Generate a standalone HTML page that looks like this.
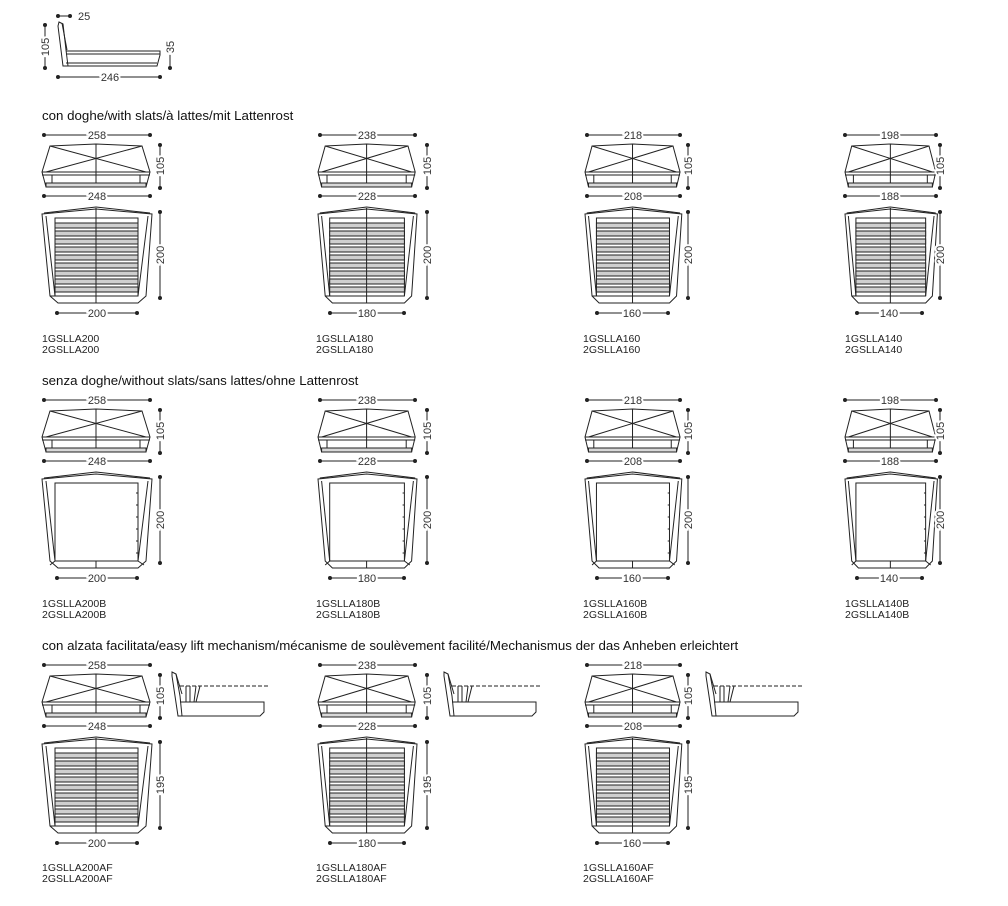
<!DOCTYPE html>
<html><head><meta charset="utf-8"><style>
html,body{margin:0;padding:0;background:#fff;}
svg{display:block;font-family:"Liberation Sans",sans-serif;}
svg *{vector-effect:non-scaling-stroke;}
.o{fill:none;stroke:#222;stroke-width:1}
.t{font-size:11px;fill:#333;stroke:#fff;stroke-width:4px;paint-order:stroke;text-anchor:middle;vector-effect:none}
.l{font-size:10.5px;fill:#222}
.h{font-size:13.3px;fill:#111}
.d line{stroke:#222;stroke-width:1;marker-start:url(#dot);marker-end:url(#dot)}
</style></head><body>
<svg width="1008" height="906" viewBox="0 0 1008 906">
<defs>
<marker id="dot" viewBox="0 0 4 4" refX="2" refY="2" markerWidth="4" markerHeight="4" markerUnits="userSpaceOnUse"><circle cx="2" cy="2" r="2" fill="#222"/></marker>
<g id="front" class="o">
<path d="M8,1 L54,-1 L100,1 L108,27 L104,42 L4,42 L0,27 Z"/>
<line x1="0" y1="27" x2="108" y2="27"/><line x1="0" y1="30" x2="108" y2="30"/>
<line x1="8" y1="1" x2="104" y2="27"/><line x1="100" y1="1" x2="4" y2="27"/>
<line x1="54" y1="-1" x2="54" y2="42"/>
<line x1="10" y1="30" x2="10" y2="42"/><line x1="98" y1="30" x2="98" y2="42"/>
<rect x="4" y="38" width="100" height="4" fill="#d8d8d8"/>
</g>
<g id="planS" class="o">
<path d="M0,6 L54,1 L110,6 L104,88 L96,95 L16,95 L8,88 Z"/>
<path d="M2,5 L54,-1 L108,5"/>
<line x1="4" y1="8" x2="13" y2="88"/><line x1="106" y1="8" x2="96" y2="88"/>
<rect x="13" y="10" width="83" height="78"/>
<g fill="#cfcfcf">
<rect x="13" y="15" width="83" height="5"/><rect x="13" y="23" width="83" height="5"/>
<rect x="13" y="31" width="83" height="5"/><rect x="13" y="39" width="83" height="5"/>
<rect x="13" y="47" width="83" height="5"/><rect x="13" y="55" width="83" height="5"/>
<rect x="13" y="63" width="83" height="5"/><rect x="13" y="71" width="83" height="5"/>
<rect x="13" y="79" width="83" height="5"/>
</g>
<line x1="54" y1="0" x2="54" y2="95"/>
<line x1="13" y1="88" x2="8" y2="88"/>
</g>
<g id="planE" class="o">
<path d="M0,6 L54,1 L110,6 L104,88 L96,95 L16,95 L8,88 Z"/>
<path d="M2,5 L54,-1 L108,5"/>
<line x1="4" y1="8" x2="13" y2="88"/><line x1="106" y1="8" x2="96" y2="88"/>
<rect x="13" y="10" width="83" height="78"/>
<line x1="54" y1="88" x2="54" y2="95"/>
<line x1="13" y1="88" x2="8" y2="92"/><line x1="96" y1="88" x2="102" y2="92"/>
<line x1="94" y1="20" x2="96" y2="20"/><line x1="94" y1="32" x2="96" y2="32"/><line x1="94" y1="44" x2="96" y2="44"/><line x1="94" y1="56" x2="96" y2="56"/><line x1="94" y1="68" x2="96" y2="68"/><line x1="94" y1="80" x2="96" y2="80"/>
</g>
<g id="lift" class="o">
<path d="M0,0 L4,2 L8,24 L10,44 L6,44 L0,4 Z"/>
<path d="M4,2 L10,22"/>
<path d="M8,30 L92,30 L92,40 L88,44 L10,44"/>
<line x1="8" y1="14" x2="98" y2="14" stroke-dasharray="4,2"/>
<line x1="14" y1="14" x2="14" y2="30"/><line x1="18" y1="14" x2="18" y2="30"/><line x1="24" y1="14" x2="22" y2="30"/><line x1="28" y1="14" x2="24" y2="30"/>
</g>
</defs>

<g class="o">
<path d="M59,22 L63,24 L66,50 L68,66 L63,66 L58,26 Z"/><path d="M62,23 L67,50"/>
<path d="M66,51 L160,51 L160,55 L157,66 L66,66"/><line x1="66" y1="54" x2="160" y2="54"/><line x1="66" y1="63" x2="157" y2="63"/>
</g>
<g class="d"><line x1="58" y1="16" x2="70" y2="16"/><line x1="45" y1="25" x2="45" y2="68"/><line x1="170" y1="42" x2="170" y2="68"/><line x1="58" y1="77" x2="160" y2="77"/></g>
<text class="t" x="78" y="20" style="text-anchor:start">25</text>
<text class="t" transform="translate(49,47) rotate(-90)">105</text>
<text class="t" transform="translate(174,47) rotate(-90)">35</text>
<text class="t" x="110" y="81">246</text>

<text class="h" x="42" y="120">con doghe/with slats/à lattes/mit Lattenrost</text>
<text class="h" x="42" y="385">senza doghe/without slats/sans lattes/ohne Lattenrost</text>
<text class="h" x="42" y="650">con alzata facilitata/easy lift mechanism/mécanisme de soulèvement facilité/Mechanismus der das Anheben erleichtert</text>

<use href="#front" transform="translate(42,145)"/>
<use href="#front" transform="translate(318,145) scale(0.9,1)"/>
<use href="#front" transform="translate(585,145) scale(0.88,1)"/>
<use href="#front" transform="translate(845,145) scale(0.84,1)"/>
<use href="#planS" transform="translate(42,208)"/>
<use href="#planS" transform="translate(318,208) scale(0.9,1)"/>
<use href="#planS" transform="translate(585,208) scale(0.88,1)"/>
<use href="#planS" transform="translate(845,208) scale(0.84,1)"/>

<use href="#front" transform="translate(42,410)"/>
<use href="#front" transform="translate(318,410) scale(0.9,1)"/>
<use href="#front" transform="translate(585,410) scale(0.88,1)"/>
<use href="#front" transform="translate(845,410) scale(0.84,1)"/>
<use href="#planE" transform="translate(42,473)"/>
<use href="#planE" transform="translate(318,473) scale(0.9,1)"/>
<use href="#planE" transform="translate(585,473) scale(0.88,1)"/>
<use href="#planE" transform="translate(845,473) scale(0.84,1)"/>

<use href="#front" transform="translate(42,675)"/>
<use href="#front" transform="translate(318,675) scale(0.9,1)"/>
<use href="#front" transform="translate(585,675) scale(0.88,1)"/>
<use href="#planS" transform="translate(42,738)"/>
<use href="#planS" transform="translate(318,738) scale(0.9,1)"/>
<use href="#planS" transform="translate(585,738) scale(0.88,1)"/>
<use href="#lift" transform="translate(172,672)"/>
<use href="#lift" transform="translate(444,672)"/>
<use href="#lift" transform="translate(706,672)"/>

<g class="d">
<line x1="44" y1="135" x2="150" y2="135"/><line x1="44" y1="196" x2="150" y2="196"/><line x1="57" y1="313" x2="137" y2="313"/>
<line x1="160" y1="145" x2="160" y2="188"/><line x1="160" y1="212" x2="160" y2="298"/>
<line x1="320" y1="135" x2="415" y2="135"/><line x1="320" y1="196" x2="415" y2="196"/><line x1="330" y1="313" x2="404" y2="313"/>
<line x1="427" y1="145" x2="427" y2="188"/><line x1="427" y1="212" x2="427" y2="298"/>
<line x1="587" y1="135" x2="680" y2="135"/><line x1="587" y1="196" x2="680" y2="196"/><line x1="597" y1="313" x2="668" y2="313"/>
<line x1="688" y1="145" x2="688" y2="188"/><line x1="688" y1="212" x2="688" y2="298"/>
<line x1="845" y1="135" x2="936" y2="135"/><line x1="845" y1="196" x2="936" y2="196"/><line x1="857" y1="313" x2="922" y2="313"/>
<line x1="940" y1="145" x2="940" y2="188"/><line x1="940" y1="212" x2="940" y2="298"/>
<line x1="44" y1="400" x2="150" y2="400"/><line x1="44" y1="461" x2="150" y2="461"/><line x1="57" y1="578" x2="137" y2="578"/>
<line x1="160" y1="410" x2="160" y2="453"/><line x1="160" y1="477" x2="160" y2="563"/>
<line x1="320" y1="400" x2="415" y2="400"/><line x1="320" y1="461" x2="415" y2="461"/><line x1="330" y1="578" x2="404" y2="578"/>
<line x1="427" y1="410" x2="427" y2="453"/><line x1="427" y1="477" x2="427" y2="563"/>
<line x1="587" y1="400" x2="680" y2="400"/><line x1="587" y1="461" x2="680" y2="461"/><line x1="597" y1="578" x2="668" y2="578"/>
<line x1="688" y1="410" x2="688" y2="453"/><line x1="688" y1="477" x2="688" y2="563"/>
<line x1="845" y1="400" x2="936" y2="400"/><line x1="845" y1="461" x2="936" y2="461"/><line x1="857" y1="578" x2="922" y2="578"/>
<line x1="940" y1="410" x2="940" y2="453"/><line x1="940" y1="477" x2="940" y2="563"/>
<line x1="44" y1="665" x2="150" y2="665"/><line x1="44" y1="726" x2="150" y2="726"/><line x1="57" y1="843" x2="137" y2="843"/>
<line x1="160" y1="675" x2="160" y2="718"/><line x1="160" y1="742" x2="160" y2="828"/>
<line x1="320" y1="665" x2="415" y2="665"/><line x1="320" y1="726" x2="415" y2="726"/><line x1="330" y1="843" x2="404" y2="843"/>
<line x1="427" y1="675" x2="427" y2="718"/><line x1="427" y1="742" x2="427" y2="828"/>
<line x1="587" y1="665" x2="680" y2="665"/><line x1="587" y1="726" x2="680" y2="726"/><line x1="597" y1="843" x2="668" y2="843"/>
<line x1="688" y1="675" x2="688" y2="718"/><line x1="688" y1="742" x2="688" y2="828"/>
</g>

<g>
<text class="t" x="97" y="139">258</text><text class="t" x="97" y="200">248</text><text class="t" x="97" y="317">200</text>
<text class="t" transform="translate(164,166) rotate(-90)">105</text><text class="t" transform="translate(164,255) rotate(-90)">200</text>
<text class="t" x="367" y="139">238</text><text class="t" x="367" y="200">228</text><text class="t" x="367" y="317">180</text>
<text class="t" transform="translate(431,166) rotate(-90)">105</text><text class="t" transform="translate(431,255) rotate(-90)">200</text>
<text class="t" x="633" y="139">218</text><text class="t" x="633" y="200">208</text><text class="t" x="632" y="317">160</text>
<text class="t" transform="translate(692,166) rotate(-90)">105</text><text class="t" transform="translate(692,255) rotate(-90)">200</text>
<text class="t" x="890" y="139">198</text><text class="t" x="890" y="200">188</text><text class="t" x="889" y="317">140</text>
<text class="t" transform="translate(944,166) rotate(-90)">105</text><text class="t" transform="translate(944,255) rotate(-90)">200</text>

<text class="t" x="97" y="404">258</text><text class="t" x="97" y="465">248</text><text class="t" x="97" y="582">200</text>
<text class="t" transform="translate(164,431) rotate(-90)">105</text><text class="t" transform="translate(164,520) rotate(-90)">200</text>
<text class="t" x="367" y="404">238</text><text class="t" x="367" y="465">228</text><text class="t" x="367" y="582">180</text>
<text class="t" transform="translate(431,431) rotate(-90)">105</text><text class="t" transform="translate(431,520) rotate(-90)">200</text>
<text class="t" x="633" y="404">218</text><text class="t" x="633" y="465">208</text><text class="t" x="632" y="582">160</text>
<text class="t" transform="translate(692,431) rotate(-90)">105</text><text class="t" transform="translate(692,520) rotate(-90)">200</text>
<text class="t" x="890" y="404">198</text><text class="t" x="890" y="465">188</text><text class="t" x="889" y="582">140</text>
<text class="t" transform="translate(944,431) rotate(-90)">105</text><text class="t" transform="translate(944,520) rotate(-90)">200</text>

<text class="t" x="97" y="669">258</text><text class="t" x="97" y="730">248</text><text class="t" x="97" y="847">200</text>
<text class="t" transform="translate(164,696) rotate(-90)">105</text><text class="t" transform="translate(164,785) rotate(-90)">195</text>
<text class="t" x="367" y="669">238</text><text class="t" x="367" y="730">228</text><text class="t" x="367" y="847">180</text>
<text class="t" transform="translate(431,696) rotate(-90)">105</text><text class="t" transform="translate(431,785) rotate(-90)">195</text>
<text class="t" x="633" y="669">218</text><text class="t" x="633" y="730">208</text><text class="t" x="632" y="847">160</text>
<text class="t" transform="translate(692,696) rotate(-90)">105</text><text class="t" transform="translate(692,785) rotate(-90)">195</text>
</g>

<g class="l">
<text x="42" y="342">1GSLLA200</text><text x="42" y="353">2GSLLA200</text>
<text x="316" y="342">1GSLLA180</text><text x="316" y="353">2GSLLA180</text>
<text x="583" y="342">1GSLLA160</text><text x="583" y="353">2GSLLA160</text>
<text x="845" y="342">1GSLLA140</text><text x="845" y="353">2GSLLA140</text>
<text x="42" y="607">1GSLLA200B</text><text x="42" y="618">2GSLLA200B</text>
<text x="316" y="607">1GSLLA180B</text><text x="316" y="618">2GSLLA180B</text>
<text x="583" y="607">1GSLLA160B</text><text x="583" y="618">2GSLLA160B</text>
<text x="845" y="607">1GSLLA140B</text><text x="845" y="618">2GSLLA140B</text>
<text x="42" y="871">1GSLLA200AF</text><text x="42" y="882">2GSLLA200AF</text>
<text x="316" y="871">1GSLLA180AF</text><text x="316" y="882">2GSLLA180AF</text>
<text x="583" y="871">1GSLLA160AF</text><text x="583" y="882">2GSLLA160AF</text>
</g>
</svg>
</body></html>
